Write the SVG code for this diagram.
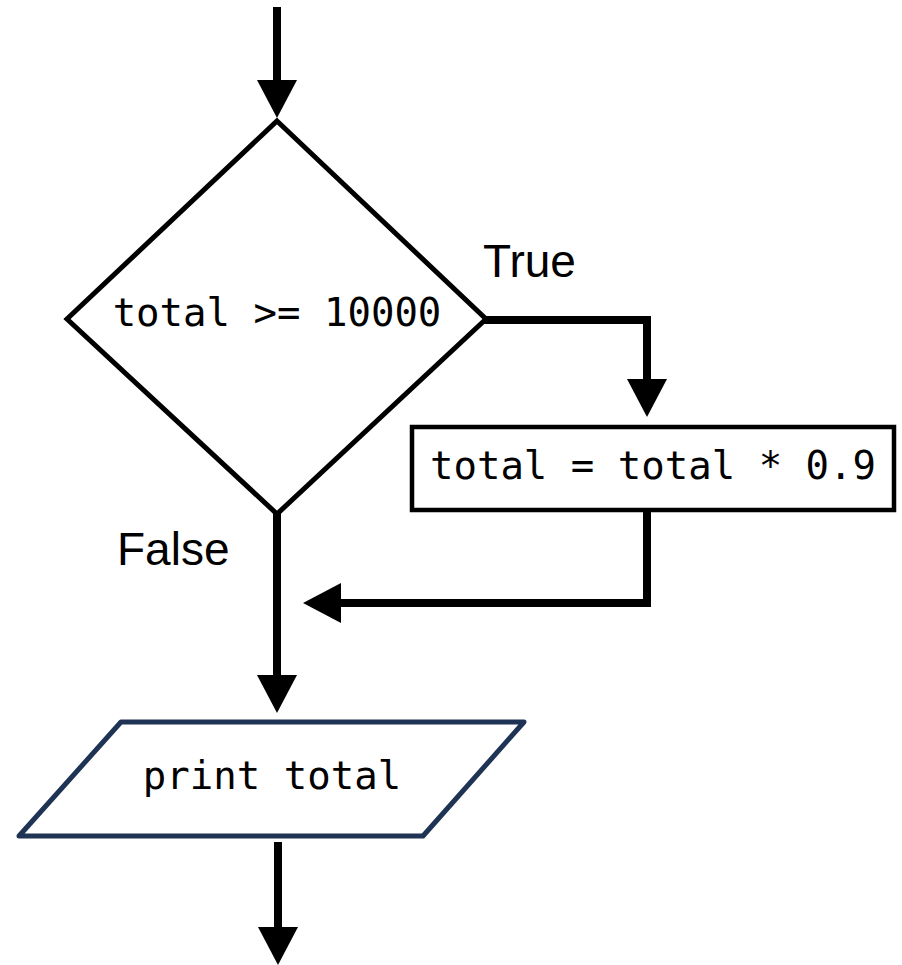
<svg xmlns="http://www.w3.org/2000/svg" width="902" height="965" viewBox="0 0 902 965">
<style>
.mono{font-family:"DejaVu Sans Mono","Liberation Mono",monospace;font-size:39px;fill:#000;text-anchor:middle}
.lbl{font-family:"Liberation Sans",Arial,sans-serif;font-size:46px;fill:#000}
.conn{fill:none;stroke:#000;stroke-width:8;stroke-linejoin:miter;stroke-linecap:butt}
</style>
<defs>
<marker id="arr" markerUnits="userSpaceOnUse" markerWidth="40" markerHeight="42" viewBox="0 0 38 42" refX="1" refY="21" orient="auto">
<path d="M0,1 L38,21 L0,41 z" fill="#000"/>
</marker>
</defs>
<rect width="902" height="965" fill="#fff"/>
<g id="connectors">
<path class="conn" d="M277,7 V81" marker-end="url(#arr)"/>
<path class="conn" d="M484,320 H647 V380" marker-end="url(#arr)"/>
<path class="conn" d="M647,510 V603 H340" marker-end="url(#arr)"/>
<path class="conn" d="M277,513 V676" marker-end="url(#arr)"/>
<path class="conn" d="M278,842 V928" marker-end="url(#arr)"/>
</g>
<g id="decision">
<polygon points="277,121 486,319 277,514 67,319" fill="#fff" stroke="#000" stroke-width="5"/>
<text class="mono" x="277" y="326">total &gt;= 10000</text>
</g>
<g id="label-true"><text class="lbl" x="483" y="277">True</text></g>
<g id="label-false"><text class="lbl" x="117" y="565">False</text></g>
<g id="process">
<rect x="412" y="427" width="482" height="83" fill="#fff" stroke="#000" stroke-width="4.5"/>
<text class="mono" x="653" y="479">total = total * 0.9</text>
</g>
<g id="output">
<polygon points="121,722 524,722 423,836 19,836" fill="#fff" stroke="#1f3354" stroke-width="5" stroke-linejoin="round"/>
<text class="mono" x="272" y="789">print total</text>
</g>
</svg>
